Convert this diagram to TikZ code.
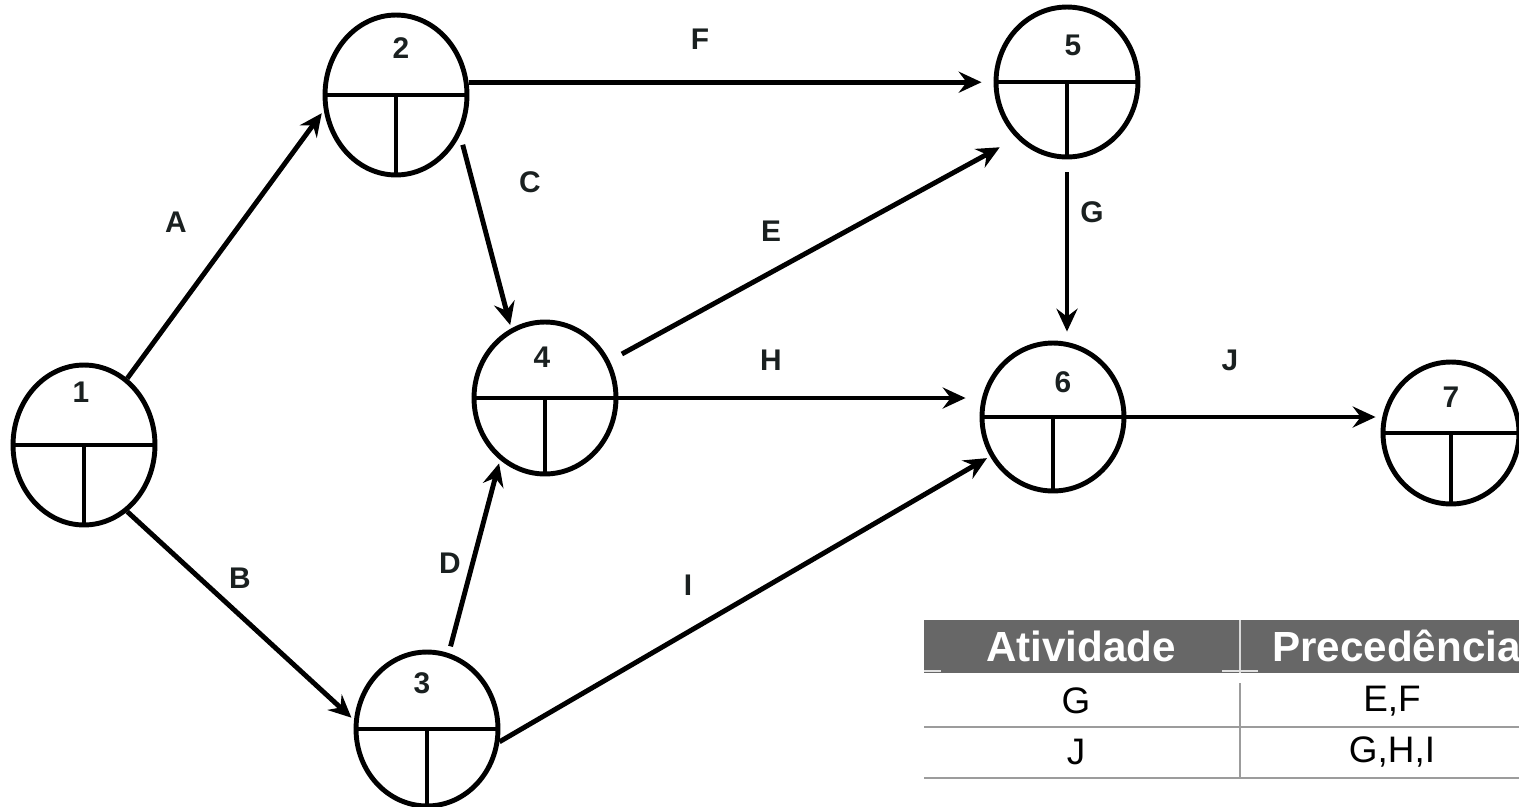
\documentclass[tikz,border=0pt]{standalone}
\usepackage{fontspec}
\setmainfont{Liberation Sans}
\usepackage{xcolor}
\usetikzlibrary{
  shapes.geometric,
  arrows.meta
}

\definecolor{label_black}{HTML}{1A2020}
\definecolor{header_gray}{HTML}{676767}
\definecolor{rule_gray}{HTML}{9C9C9C}

\begin{document}
\begin{tikzpicture}[%詳細設定
        x=0.02cm,y=-0.02cm,
        event/.style={
            draw,
            ellipse,
            line width=2.8pt,
            minimum width=2.84cm,
            minimum height=#1,
            inner sep=0pt
          },event/.default=3.1cm
        ,divider/.style={
            line width=2.8pt
          },activity/.style={
            line width=2.8pt,
            -{Stealth[length=13pt,width=12pt,inset=4.5pt]},
            shorten >=#1
          },activity/.default=2pt
        ,act_tag/.style={
            text=label_black,
            font=\bfseries\fontsize{17}{20}\selectfont
          },event_no/.style={
            act_tag
          },head/.style={
            text=white,
            font=\bfseries\fontsize{24}{28}\selectfont
          },cell/.style={
            text=black,
            font=\fontsize{21}{25}\selectfont
          },table_rule/.style={
            draw=rule_gray,
            line width=1.1pt
          }
      ]

      \useasboundingbox (0,0) rectangle (1519,806);

      % イベント(節点)の描画
      \node[event=3.2cm] (event_1) at (84,445) {};
      \node[event=3.2cm] (event_2) at (396,95) {};
      \node[event=3.08cm] (event_3) at (427,729) {};
      \node[event=3.04cm] (event_4) at (545,398) {};
      \node[event=3.0cm] (event_5) at (1067,82) {};
      \node[event=2.96cm] (event_6) at (1053,417) {};
      \node[event=2.84cm,minimum width=2.72cm] (event_7) at (1451,433) {};

      % 区切り線
      \draw[divider] (event_1.west) -- (event_1.east) (event_1.center) -- (event_1.south);
      \draw[divider] (event_2.west) -- (event_2.east) (event_2.center) -- (event_2.south);
      \draw[divider] (event_3.west) -- (event_3.east) (event_3.center) -- (event_3.south);
      \draw[divider] (event_4.west) -- (event_4.east) (event_4.center) -- (event_4.south);
      \draw[divider] (event_5.west) -- (event_5.east) (event_5.center) -- (event_5.south);
      \draw[divider] (event_6.west) -- (event_6.east) (event_6.center) -- (event_6.south);
      \draw[divider] (event_7.west) -- (event_7.east) (event_7.center) -- (event_7.south);

      % 番号
      \node[event_no] (no_1) at (81,392) {1};
      \node[event_no] (no_2) at (401,48) {2};
      \node[event_no] (no_3) at (422,683) {3};
      \node[event_no] (no_4) at (542,357) {4};
      \node[event_no] (no_5) at (1073,45) {5};
      \node[event_no] (no_6) at (1063,382) {6};
      \node[event_no] (no_7) at (1451,397) {7};

      % 活動(矢印)
      \draw[activity] (event_1.57) -- (event_2.192);
      \draw[activity] (event_1.-57) -- (event_3.173);
      \draw[activity,shorten <=0.2cm] (event_2.-32) -- (event_4.116);
      \draw[activity,shorten <=0.14cm] (event_3.74) -- (event_4.-126);
      \draw[activity=0.38cm,shorten <=0.28cm] (event_4.30) -- (event_5.-132);
      \draw[activity=0.24cm] (event_2.10) -- (event_2.10 -| event_5.west);
      \draw[activity=0.18cm,shorten <=0.26cm] (event_5.south) -- (event_5.south |- event_6.north);
      \draw[activity=0.28cm] (event_4.east) -- (event_4.east -| event_6.west);
      \draw[activity] (event_3.-10) -- (event_6.-148);
      \draw[activity=0.1cm] (event_6.east) -- (event_6.east -| event_7.west);

      % 活動名
      \node[act_tag] (tag_A) at (176,222) {A};
      \node[act_tag] (tag_B) at (240,578) {B};
      \node[act_tag] (tag_C) at (530,182) {C};
      \node[act_tag] (tag_D) at (450,563) {D};
      \node[act_tag] (tag_E) at (771,231) {E};
      \node[act_tag] (tag_F) at (700,39) {F};
      \node[act_tag] (tag_G) at (1092,212) {G};
      \node[act_tag] (tag_H) at (771,360) {H};
      \node[act_tag] (tag_I) at (688,585) {I};
      \node[act_tag] (tag_J) at (1230,360) {J};

      % 表
      \fill[header_gray] (924,620) rectangle (1519,673);
      \draw[white!75!header_gray,line width=0.6pt] (1240,620) -- (1240,673);
      \draw[white!80!header_gray,line width=1pt] (924,671) -- (941,671) (1222,671) -- (1258,671);
      \node[head] (head_act) at (1081,646) {Atividade};
      \node[head,anchor=west,inner sep=0pt] (head_prec) at (1272,646) {Precedência};
      \draw[table_rule] (924,727) -- (1519,727) (924,778) -- (1519,778);
      \draw[table_rule,line width=0.8pt] (1240,683) -- (1240,778);
      \node[cell] (cell_G) at (1076,701) {G};
      \node[cell] (cell_EF) at (1392,701) {E,F};
      \node[cell] (cell_J) at (1076,752) {J};
      \node[cell] (cell_GHI) at (1392,752) {G,H,I};

    \end{tikzpicture}
\end{document}
